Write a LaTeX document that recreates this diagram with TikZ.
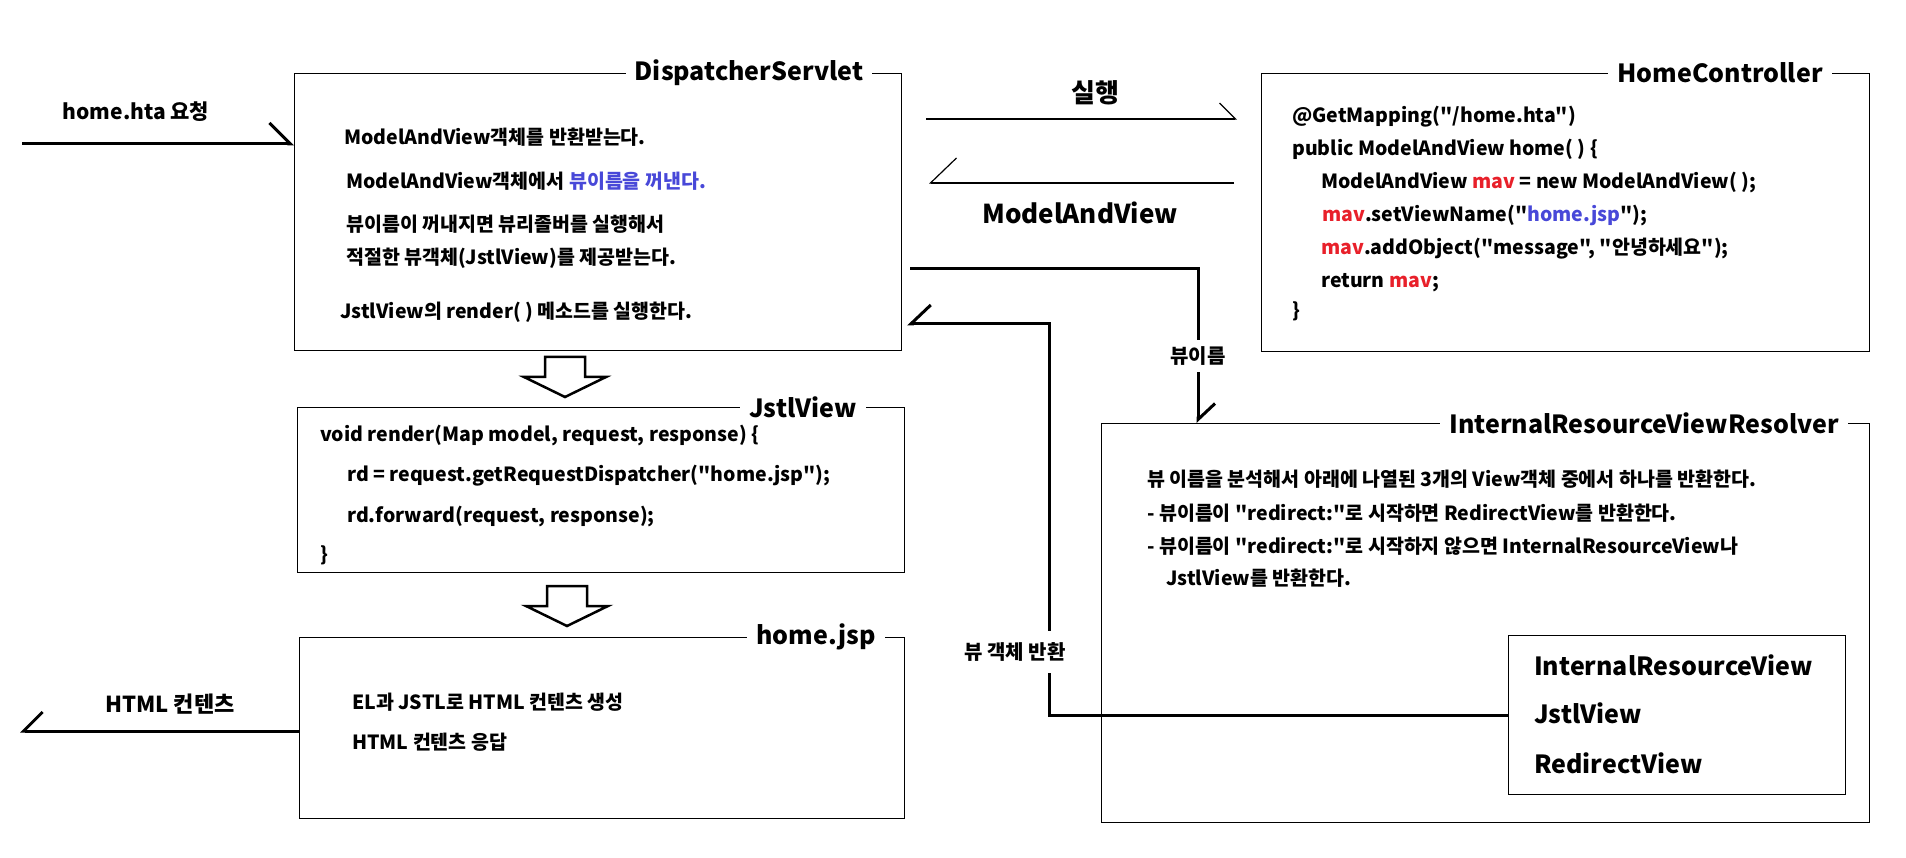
\documentclass[tikz,border=0pt]{standalone}
\usepackage{fontspec}
\setmainfont{Noto Sans CJK KR}[Ligatures=TeXOff]
\usepackage{xcolor}
\usetikzlibrary{arrows.meta,calc,positioning}
\definecolor{codered}{RGB}{232,32,42}
\definecolor{codeblue}{RGB}{72,72,216}
\tikzset{%
	block/.style     = {draw, rectangle, line width=1pt, anchor=north west, inner sep=0pt}, % Box
	blocktitle/.style= {fill=white, inner xsep=9pt, inner ysep=2pt, font=\fontsize{25}{30}\selectfont\bfseries}, % Box name
	bodytext/.style  = {anchor=base west, inner sep=0pt, font=\fontsize{19.5}{23}\selectfont\bfseries}, % Text in a box
	viewtext/.style  = {anchor=base west, inner sep=0pt, font=\fontsize{25}{30}\selectfont\bfseries}, % View names
	flowtext/.style  = {fill=white, inner sep=4pt, font=\fontsize{22}{26}\selectfont\bfseries}, % Connector label
	thinflow/.style  = {line width=1.2pt},
	thickflow/.style = {line width=3pt},
	hollow/.style    = {draw, line width=2.5pt, line join=miter},
}
\begin{document}
\begin{tikzpicture}[x=1pt,y=-1pt]
	\useasboundingbox (0,0) rectangle (1906,858);
	% boxes
	\node [block,minimum width=607pt,minimum height=277pt] (servlet) at (294,73) {};
	\node [block,minimum width=608pt,minimum height=278pt] (ctrl) at (1261,73) {};
	\node [block,minimum width=607pt,minimum height=165pt] (jstl) at (297,407) {};
	\node [block,minimum width=605pt,minimum height=181pt] (jsp) at (299,637) {};
	\node [block,minimum width=768pt,minimum height=399pt] (resolver) at (1101,423) {};
	\node [block,minimum width=337pt,minimum height=159pt] (views) at (1508,635) {};
	
	% box names
	\node [blocktitle] (servlettitle) at (749,73) {DispatcherServlet};
	\node [blocktitle] (ctrltitle) at (1720,73) {HomeController};
	\node [blocktitle] (jstltitle) at (803,407) {JstlView};
	\node [blocktitle] (jsptitle) at (816,637) {home.jsp};
	\node [blocktitle] (resolvertitle) at (1644,423) {InternalResourceViewResolver};
	
	% DispatcherServlet
	\node [bodytext] (s1) at (344,145) {ModelAndView객체를 반환받는다.};
	\node [bodytext] (s2) at (346,189) {ModelAndView객체에서 \textcolor{codeblue}{뷰이름을 꺼낸다.}};
	\node [bodytext] (s3) at (346,232) {뷰이름이 꺼내지면 뷰리졸버를 실행해서};
	\node [bodytext] (s4) at (346,265) {적절한 뷰객체(JstlView)를 제공받는다.};
	\node [bodytext] (s5) at (340,319) {JstlView의 render( ) 메소드를 실행한다.};
	
	% HomeController
	\node [bodytext] (c1) at (1292,123) {@GetMapping("/home.hta")};
	\node [bodytext] (c2) at (1292,156) {public ModelAndView home( ) \{};
	\node [bodytext] (c3) at (1321,189) {ModelAndView \textcolor{codered}{mav} = new ModelAndView( );};
	\node [bodytext] (c4) at (1322,222) {\textcolor{codered}{mav}.setViewName("\textcolor{codeblue}{home.jsp}");};
	\node [bodytext] (c5) at (1321,255) {\textcolor{codered}{mav}.addObject("message", "안녕하세요");};
	\node [bodytext] (c6) at (1321,288) {return \textcolor{codered}{mav};};
	\node [bodytext] (c7) at (1292,318) {\}};
	
	% JstlView
	\node [bodytext] (j1) at (320,441) {void render(Map model, request, response) \{};
	\node [bodytext] (j2) at (347,481) {rd = request.getRequestDispatcher("home.jsp");};
	\node [bodytext] (j3) at (347,522) {rd.forward(request, response);};
	\node [bodytext] (j4) at (320,561) {\}};
	
	% home.jsp
	\node [bodytext] (p1) at (352,709) {EL과 JSTL로 HTML 컨텐츠 생성};
	\node [bodytext] (p2) at (352,749) {HTML 컨텐츠 응답};
	
	% InternalResourceViewResolver
	\node [bodytext] (r1) at (1147,486) {뷰 이름을 분석해서 아래에 나열된 3개의 View객체 중에서 하나를 반환한다.};
	\node [bodytext] (r2) at (1147,520) {- 뷰이름이 "redirect:"로 시작하면 RedirectView를 반환한다.};
	\node [bodytext] (r3) at (1147,553) {- 뷰이름이 "redirect:"로 시작하지 않으면 InternalResourceView나};
	\node [bodytext] (r4) at (1166,585) {JstlView를 반환한다.};
	\node [viewtext] (v1) at (1534,675) {InternalResourceView};
	\node [viewtext] (v2) at (1534,723) {JstlView};
	\node [viewtext] (v3) at (1534,773) {RedirectView};
	
	% hollow arrows between the boxes
	\foreach \cx/\ty in {565/357,567/586}
		\draw [hollow] (\cx-20,\ty) -- ++(40,0) -- ++(0,20) -- ++(21,0) -- (\cx,\ty+40) -- ++(-41,-20) -- ++(21,0) -- cycle;
	
	% request and response
	\coordinate (reqin) at (22,144);
	\draw [thickflow,-{Straight Barb[left,length=21pt,width=42pt]}] (reqin) -- (reqin -| servlet.west);
	\node [flowtext,font=\fontsize{21}{25}\selectfont\bfseries] (reqtext) at (136,112) {home.hta 요청};
	\coordinate (htmlout) at (20,731);
	\draw [thickflow,-{Straight Barb[right,length=19pt,width=38pt]}] (jsp.west |- htmlout) -- (htmlout);
	\node [flowtext] (htmltext) at (170,704) {HTML 컨텐츠};
	
	% controller call
	\coordinate (run1) at (926,119);
	\coordinate (run2) at (1237,119);
	\draw [thinflow,-{Straight Barb[left,length=16pt,width=32pt]}] (run1) -- (run2);
	\node [flowtext,font=\fontsize{26}{30}\selectfont\bfseries] (runtext) at (1095,93) {실행};
	\coordinate (mav1) at (1234,183);
	\coordinate (mav2) at (929,183);
	\draw [thinflow,-{Straight Barb[right,length=26pt,width=50pt]}] (mav1) -- (mav2);
	\node [flowtext,font=\fontsize{26}{30}\selectfont\bfseries] (mavtext) at (1080,213) {ModelAndView};
	
	% view resolving
	\coordinate (nameout) at (910,269);
	\draw [thickflow,-{Straight Barb[left,length=16pt,width=34pt]}] (nameout) -| ([xshift=97pt]resolver.north west);
	\node [flowtext,font=\fontsize{20}{24}\selectfont\bfseries,inner ysep=7pt] (nametext) at (1198,356) {뷰이름};
	\coordinate (viewbend) at (1049,324);
	\coordinate (viewin) at (907,324);
	\draw [thickflow,-{Straight Barb[right,length=20pt,width=38pt]}] (views.west) -| (viewbend) -- (viewin);
	\node [flowtext,font=\fontsize{20}{24}\selectfont\bfseries,inner ysep=12pt] (viewtext) at (1015,652) {뷰 객체 반환};
\end{tikzpicture}
\end{document}
